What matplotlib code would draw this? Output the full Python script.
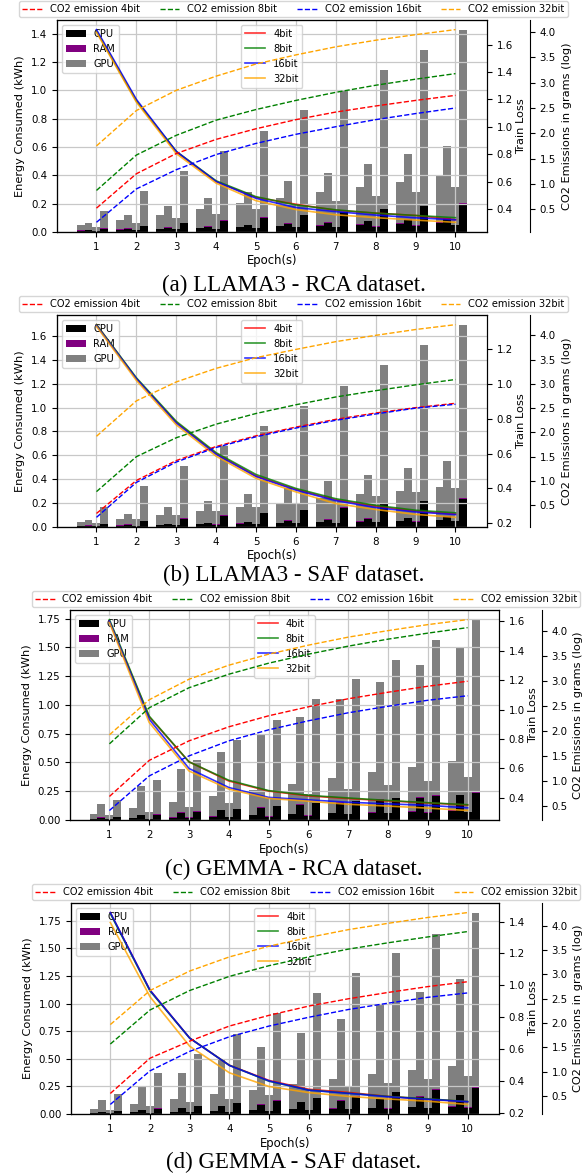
import numpy as np
import matplotlib.pyplot as plt

epochs = np.arange(1, 11)
bits = ['4bit', '8bit', '16bit', '32bit']
colors = ['red', 'green', 'blue', 'orange']

# total bar height (CPU + RAM + GPU) per precision
llama_rca_total = [
    [0.047, 0.086, 0.123, 0.16, 0.202, 0.24, 0.279, 0.319, 0.353, 0.393],
    [0.063, 0.12, 0.18, 0.24, 0.284, 0.36, 0.419, 0.477, 0.547, 0.605],
    [0.033, 0.063, 0.095, 0.125, 0.16, 0.19, 0.219, 0.253, 0.281, 0.314],
    [0.147, 0.29, 0.43, 0.572, 0.715, 0.858, 1.005, 1.144, 1.284, 1.425],
]
llama_rca_cpu = [
    [0.01, 0.016, 0.022, 0.027, 0.033, 0.04, 0.045, 0.05, 0.056, 0.064],
    [0.014, 0.022, 0.028, 0.037, 0.046, 0.055, 0.066, 0.075, 0.084, 0.092],
    [0.008, 0.012, 0.018, 0.021, 0.026, 0.032, 0.033, 0.038, 0.044, 0.047],
    [0.022, 0.042, 0.06, 0.08, 0.098, 0.117, 0.14, 0.16, 0.181, 0.197],
]
llama_saf_total = [
    [0.039, 0.069, 0.10, 0.138, 0.171, 0.204, 0.24, 0.273, 0.303, 0.337],
    [0.058, 0.11, 0.166, 0.22, 0.279, 0.323, 0.386, 0.439, 0.494, 0.549],
    [0.033, 0.067, 0.10, 0.135, 0.166, 0.2, 0.23, 0.262, 0.295, 0.328],
    [0.171, 0.342, 0.508, 0.68, 0.847, 1.012, 1.183, 1.357, 1.525, 1.691],
]
llama_saf_cpu = [
    [0.008, 0.012, 0.018, 0.022, 0.028, 0.033, 0.039, 0.044, 0.05, 0.055],
    [0.012, 0.02, 0.025, 0.032, 0.04, 0.052, 0.06, 0.069, 0.074, 0.083],
    [0.007, 0.01, 0.016, 0.02, 0.025, 0.03, 0.033, 0.039, 0.044, 0.05],
    [0.025, 0.05, 0.07, 0.095, 0.117, 0.14, 0.163, 0.193, 0.215, 0.234],
]
gemma_rca_total = [
    [0.049, 0.106, 0.154, 0.206, 0.257, 0.309, 0.366, 0.415, 0.463, 0.515],
    [0.143, 0.297, 0.443, 0.595, 0.743, 0.895, 1.052, 1.195, 1.347, 1.495],
    [0.043, 0.071, 0.114, 0.152, 0.19, 0.229, 0.266, 0.306, 0.343, 0.377],
    [0.172, 0.352, 0.523, 0.695, 0.872, 1.048, 1.224, 1.393, 1.567, 1.737],
]
gemma_rca_cpu = [
    [0.011, 0.015, 0.02, 0.03, 0.04, 0.049, 0.057, 0.063, 0.071, 0.08],
    [0.02, 0.042, 0.064, 0.086, 0.106, 0.132, 0.152, 0.175, 0.194, 0.214],
    [0.009, 0.012, 0.02, 0.025, 0.03, 0.037, 0.049, 0.057, 0.063, 0.069],
    [0.023, 0.048, 0.072, 0.096, 0.118, 0.146, 0.163, 0.19, 0.21, 0.239],
]
gemma_saf_total = [
    [0.045, 0.089, 0.134, 0.179, 0.22, 0.27, 0.313, 0.363, 0.399, 0.438],
    [0.125, 0.244, 0.369, 0.49, 0.61, 0.735, 0.86, 0.988, 1.107, 1.225],
    [0.036, 0.071, 0.107, 0.14, 0.176, 0.214, 0.244, 0.283, 0.313, 0.342],
    [0.185, 0.369, 0.548, 0.729, 0.914, 1.092, 1.274, 1.458, 1.634, 1.82],
]
gemma_saf_cpu = [
    [0.012, 0.015, 0.02, 0.025, 0.035, 0.042, 0.048, 0.054, 0.06, 0.066],
    [0.018, 0.032, 0.051, 0.071, 0.086, 0.105, 0.12, 0.135, 0.155, 0.17],
    [0.01, 0.012, 0.015, 0.02, 0.025, 0.036, 0.042, 0.048, 0.051, 0.057],
    [0.024, 0.048, 0.072, 0.097, 0.121, 0.145, 0.157, 0.196, 0.219, 0.24],
]
# RAM is only a thin strip on top of the CPU part
ram_share = [
    [0.001, 0.002, 0.002, 0.002, 0.003, 0.003, 0.003, 0.004, 0.004, 0.004],
    [0.003, 0.004, 0.004, 0.004, 0.004, 0.005, 0.005, 0.005, 0.005, 0.005],
    [0.001, 0.001, 0.002, 0.002, 0.002, 0.003, 0.003, 0.003, 0.003, 0.003],
    [0.003, 0.003, 0.003, 0.004, 0.004, 0.004, 0.004, 0.005, 0.005, 0.005],
]

llama_rca_loss = [
    [1.70, 1.19, 0.816, 0.60, 0.484, 0.434, 0.39, 0.369, 0.352, 0.321],
    [1.70, 1.19, 0.82, 0.605, 0.489, 0.429, 0.393, 0.369, 0.352, 0.336],
    [1.71, 1.20, 0.82, 0.60, 0.477, 0.41, 0.38, 0.355, 0.335, 0.32],
    [1.69, 1.18, 0.804, 0.588, 0.46, 0.395, 0.357, 0.336, 0.318, 0.302],
]
llama_saf_loss = [
    [1.34, 1.03, 0.78, 0.60, 0.472, 0.395, 0.335, 0.298, 0.27, 0.253],
    [1.34, 1.035, 0.785, 0.605, 0.48, 0.40, 0.341, 0.303, 0.275, 0.26],
    [1.335, 1.03, 0.775, 0.595, 0.468, 0.39, 0.33, 0.29, 0.265, 0.25],
    [1.33, 1.02, 0.765, 0.585, 0.458, 0.38, 0.313, 0.279, 0.251, 0.234],
]
gemma_rca_loss = [
    [1.60, 0.95, 0.645, 0.515, 0.447, 0.414, 0.396, 0.38, 0.366, 0.352],
    [1.61, 0.955, 0.645, 0.52, 0.45, 0.418, 0.40, 0.383, 0.368, 0.354],
    [1.60, 0.934, 0.60, 0.471, 0.404, 0.387, 0.371, 0.36, 0.35, 0.333],
    [1.59, 0.912, 0.583, 0.46, 0.397, 0.378, 0.357, 0.345, 0.331, 0.315],
]
gemma_saf_loss = [
    [1.455, 0.97, 0.67, 0.50, 0.405, 0.35, 0.33, 0.305, 0.288, 0.272],
    [1.45, 0.965, 0.67, 0.50, 0.40, 0.345, 0.325, 0.305, 0.29, 0.273],
    [1.456, 0.97, 0.67, 0.499, 0.402, 0.344, 0.324, 0.303, 0.287, 0.272],
    [1.394, 0.929, 0.619, 0.453, 0.367, 0.329, 0.305, 0.289, 0.275, 0.255],
]

llama_rca_co2 = [
    [0.52, 1.2, 1.6, 1.88, 2.09, 2.27, 2.42, 2.54, 2.65, 2.75],
    [0.87, 1.57, 1.96, 2.26, 2.47, 2.65, 2.81, 2.95, 3.07, 3.18],
    [0.24, 0.9, 1.28, 1.58, 1.8, 1.98, 2.13, 2.27, 2.39, 2.5],
    [1.75, 2.45, 2.85, 3.13, 3.37, 3.55, 3.71, 3.84, 3.95, 4.05],
]
llama_saf_co2 = [
    [0.33, 1.01, 1.42, 1.71, 1.93, 2.11, 2.27, 2.4, 2.51, 2.6],
    [0.78, 1.5, 1.89, 2.17, 2.39, 2.57, 2.73, 2.86, 2.98, 3.09],
    [0.25, 0.97, 1.39, 1.69, 1.91, 2.09, 2.25, 2.38, 2.5, 2.58],
    [1.92, 2.65, 3.04, 3.32, 3.54, 3.71, 3.87, 4.0, 4.12, 4.22],
]
gemma_rca_co2 = [
    [0.7, 1.42, 1.81, 2.09, 2.31, 2.49, 2.65, 2.78, 2.9, 3.0],
    [1.75, 2.47, 2.87, 3.14, 3.36, 3.54, 3.7, 3.84, 3.96, 4.07],
    [0.42, 1.11, 1.51, 1.81, 2.03, 2.21, 2.37, 2.5, 2.62, 2.71],
    [1.93, 2.63, 3.04, 3.32, 3.54, 3.72, 3.88, 4.01, 4.13, 4.23],
]
gemma_saf_co2 = [
    [0.555, 1.28, 1.63, 1.94, 2.16, 2.35, 2.5, 2.63, 2.75, 2.85],
    [1.57, 2.27, 2.67, 2.96, 3.18, 3.36, 3.52, 3.65, 3.77, 3.88],
    [0.33, 1.02, 1.42, 1.72, 1.94, 2.12, 2.28, 2.41, 2.53, 2.62],
    [1.97, 2.67, 3.07, 3.36, 3.58, 3.76, 3.92, 4.05, 4.17, 4.27],
]

captions = ['(a) LLAMA3 - RCA dataset.', '(b) LLAMA3 - SAF dataset.',
            '(c) GEMMA - RCA dataset.', '(d) GEMMA - SAF dataset.']

plt.rcParams['font.size'] = 7.4
plt.rcParams['legend.fontsize'] = 7.1

fig = plt.figure(figsize=(5.87, 11.75), dpi=100)

# [left, bottom, width, height] in figure fraction, caption y
panels = [
    ([0.0971, 0.8026, 0.7325, 0.1804], 0.757,
     llama_rca_total, llama_rca_cpu, llama_rca_loss, llama_rca_co2),
    ([0.0971, 0.5515, 0.7325, 0.1804], 0.510,
     llama_saf_total, llama_saf_cpu, llama_saf_loss, llama_saf_co2),
    ([0.1193, 0.3021, 0.7308, 0.1787], 0.260,
     gemma_rca_total, gemma_rca_cpu, gemma_rca_loss, gemma_rca_co2),
    ([0.121, 0.0519, 0.729, 0.1796], 0.011,
     gemma_saf_total, gemma_saf_cpu, gemma_saf_loss, gemma_saf_co2),
]

offsets = [-0.4, -0.2, 0.0, 0.2]
width = 0.2

for i, (rect, cap_y, total, cpu, loss, co2) in enumerate(panels):
    ax = fig.add_axes(rect)
    for k in range(4):
        x = epochs + offsets[k]
        c = np.array(cpu[k])
        r = np.array(ram_share[k])
        g = np.array(total[k]) - c - r
        ax.bar(x, c, width, color='black', label='CPU' if k == 0 else None)
        ax.bar(x, r, width, bottom=c, color='purple', label='RAM' if k == 0 else None)
        ax.bar(x, g, width, bottom=c + r, color='gray', label='GPU' if k == 0 else None)
    ax.set_xticks(epochs)
    ax.grid(True, color='#c8c8c8', linewidth=0.9)
    ax.set_xlabel('Epoch(s)', fontsize=8.4, labelpad=2)
    ax.set_ylabel('Energy Consumed (kWh)', fontsize=8.2)
    ax.legend(loc='upper left')

    ax2 = ax.twinx()
    for k in range(4):
        ax2.plot(epochs, loss[k], color=colors[k], alpha=0.8, linewidth=1.2, label=bits[k])
    ax2.set_ylabel('Train Loss', fontsize=8.2, labelpad=2)
    ax2.legend(loc='upper center')

    ax3 = ax.twinx()
    ax3.spines['right'].set_position(('axes', 1.1))
    for k in range(4):
        ax3.plot(epochs, co2[k], '--', color=colors[k], linewidth=1,
                 label='CO2 emission ' + bits[k])
    ax3.set_ylabel('CO2 Emissions in grams (log)', fontsize=8.2)
    ax3.legend(loc='lower center', bbox_to_anchor=(0.55, 1.0), ncol=4,
               borderaxespad=0.3, borderpad=0.3)

    fig.text(0.5, cap_y, captions[i], ha='center', va='center',
             fontsize=16.5, family='Liberation Serif')

fig.savefig('out.png', dpi=100)
